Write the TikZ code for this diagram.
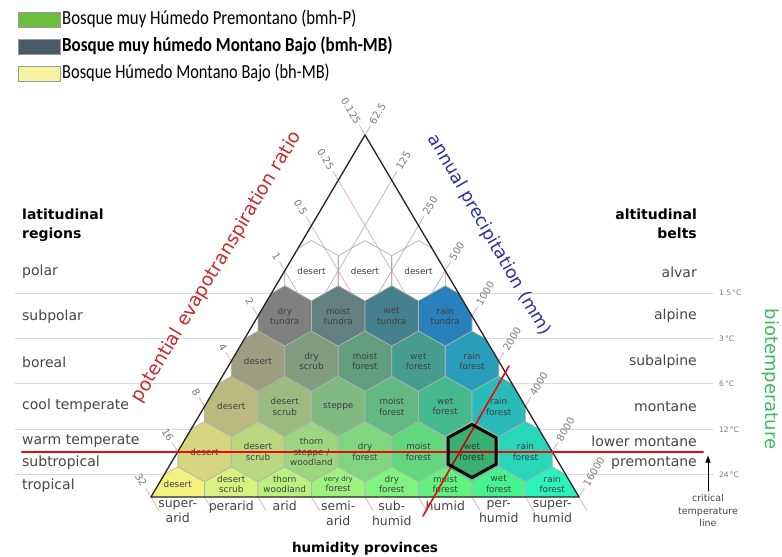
\documentclass[tikz,border=0pt]{standalone}
\usepackage{fontspec}
\setmainfont{DejaVu Sans}
\newfontfamily\legendfont{Carlito}
\usetikzlibrary{arrows.meta}

\definecolor{petline}{RGB}{232,178,185}
\definecolor{precline}{RGB}{182,182,222}
\definecolor{beltline}{RGB}{205,222,222}
\definecolor{petred}{RGB}{205,40,45}
\definecolor{precblue}{RGB}{45,45,160}
\definecolor{biogreen}{RGB}{60,185,100}
\definecolor{critred}{RGB}{235,10,10}
\definecolor{tickgray}{RGB}{125,125,125}
\definecolor{labelgray}{RGB}{70,70,70}

% one hexagon cell around a centre point (half width 26.75, row height 45.25)
\newcommand{\hexcell}[2]{(#1,#2) ++(0,30.17) -- ++(26.75,-15.08) -- ++(0,-30.17)
  -- ++(-26.75,-15.08) -- ++(-26.75,15.08) -- ++(0,30.17) -- cycle}

\tikzset{
  cell/.style = {draw = black!30, line width = 0.6pt},
  celltext/.style = {font = \fontsize{8.8}{10.5}\selectfont, align = center,
    text = black!75, inner sep = 0pt},
  zonetext/.style = {font = \fontsize{14}{16}\selectfont, text = labelgray, inner sep = 0pt},
  headtext/.style = {font = \bfseries\fontsize{14}{19}\selectfont, inner sep = 0pt},
  ticktext/.style = {font = \fontsize{10}{12}\selectfont, text = tickgray, inner sep = 0pt},
  degtext/.style = {font = \fontsize{7.5}{9}\selectfont, text = tickgray, inner sep = 0pt, anchor = west},
  provtext/.style = {font = \fontsize{12.5}{15}\selectfont, text = labelgray,
    align = center, anchor = north, inner sep = 0pt},
  legendtext/.style = {font = \legendfont\fontsize{20}{22}\selectfont, anchor = west, inner sep = 0pt},
}

\begin{document}
\begin{tikzpicture}[x = 1pt, y = 1pt, > = Latex, line cap = round]

    \useasboundingbox[fill = white] (0,0) rectangle (782,-557);

    % corners of the triangle
    \coordinate (A) at (365,-135);
    \coordinate (B) at (151,-497);
    \coordinate (C) at (579,-497);

    % Legend.
    \draw[black!40, fill = {rgb,255:red,108;green,190;blue,62}] (18,-12) rectangle (60,-27);
    \draw[black!40, fill = {rgb,255:red,72;green,92;blue,104}] (18,-39) rectangle (60,-54);
    \draw[black!40, fill = {rgb,255:red,246;green,244;blue,160}] (18,-66) rectangle (60,-81);
    \node[legendtext] (leg1) at (62,-19) {\scalebox{0.84}[1]{Bosque muy Húmedo Premontano (bmh-P)}};
    \node[legendtext, font = \legendfont\bfseries\fontsize{20}{22}\selectfont] (leg2) at (62,-46)
        {\scalebox{0.85}[1]{Bosque muy húmedo Montano Bajo (bmh-MB)}};
    \node[legendtext] (leg3) at (62,-73) {\scalebox{0.82}[1]{Bosque Húmedo Montano Bajo (bh-MB)}};

    % Belt boundaries across the whole width.
    \foreach \r in {3,...,7} {
        \pgfmathsetmacro\by{-135-45.25*(\r+0.5)}
        \draw[beltline, line width = 1pt] (15,\by) -- (713,\by);
    }

    % Guide lines for the PET ratio and the precipitation, with their ticks.
    \foreach \k/\petval/\precval in {0/0.125/62.5, 1/0.25/125, 2/0.5/250, 3/1/500, 4/2/1000,
                               5/4/2000, 6/8/4000, 7/16/8000, 8/32/16000} {
        \pgfmathsetmacro\lx{365-26.75*\k}
        \pgfmathsetmacro\rx{365+26.75*\k}
        \pgfmathsetmacro\sy{-135-45.25*\k}
        \pgfmathsetmacro\petend{\lx+26.75*(8-\k)+0.3*26.75}
        \pgfmathsetmacro\precend{\rx-26.75*(8-\k)}
        \draw[petline, line width = 0.8pt]
            ({\lx-0.2*26.75},{\sy+0.2*45.25}) -- (\petend,{-497-0.3*45.25});
        \draw[precline, line width = 0.8pt]
            ({\rx+0.2*26.75},{\sy+0.2*45.25}) -- (\precend,-497);
        \node[ticktext, anchor = east, rotate = -59.4] (pet\k) at ({\lx-0.25*26.75},{\sy+0.25*45.25}) {\petval};
        \node[ticktext, anchor = west, rotate = 59.4] (prec\k) at ({\rx+0.25*26.75},{\sy+0.25*45.25}) {\precval};
    }

    % Life zone hexagons, cut to the triangle.
    \begin{scope}
        \clip (A) -- (B) -- (C) -- cycle;
        \foreach \i in {0,1,2} {
            \pgfmathsetmacro\cx{365+(2*\i-2)*26.75}
            \draw[cell, draw = black!35] \hexcell{\cx}{-270.75};
            \node[celltext] (polar\i) at (\cx,-270.75) {desert};
        }
        \foreach \r/\i/\zone in {
            4/0/808080, 4/1/608080, 4/2/408090, 4/3/2080C0,
            5/0/A0A080, 5/1/80A080, 5/2/60A080, 5/3/40A090, 5/4/20A0C0,
            6/0/C0C080, 6/1/A0C080, 6/2/80C080, 6/3/60C080, 6/4/40C090, 6/5/20C0C0,
            7/0/E0E080, 7/1/C0E080, 7/2/A0E080, 7/3/80E080, 7/4/60E080, 7/5/40E090, 7/6/20E0C0,
            8/0/FFFF80, 8/1/E0FF80, 8/2/C0FF80, 8/3/A0FF80, 8/4/80FF80, 8/5/60FF80,
            8/6/40FF90, 8/7/20FFC0} {
            \definecolor{zonefill}{HTML}{\zone}
            \pgfmathsetmacro\cx{365+(2*\i-\r+1)*26.75}
            \pgfmathsetmacro\cy{-135-45.25*\r}
            \draw[cell, fill = zonefill!90!gray] \hexcell{\cx}{\cy};
        }
    \end{scope}

    % Zone names (bottom row sits on the base, so its names move up).
    \foreach \r/\i/\name in {
            4/0/{dry\\tundra}, 4/1/{moist\\tundra}, 4/2/{wet\\tundra}, 4/3/{rain\\tundra},
            5/0/desert, 5/1/{dry\\scrub}, 5/2/{moist\\forest}, 5/3/{wet\\forest}, 5/4/{rain\\forest},
            6/0/desert, 6/1/{desert\\scrub}, 6/2/steppe, 6/3/{moist\\forest}, 6/4/{wet\\forest},
            6/5/{rain\\forest},
            7/0/desert, 7/1/{desert\\scrub}, 7/2/{thorn\\steppe /\\woodland}, 7/3/{dry\\forest},
            7/4/{moist\\forest}, 7/5/{wet\\forest}, 7/6/{rain\\forest}} {
        \pgfmathsetmacro\cx{365+(2*\i-\r+1)*26.75}
        \pgfmathsetmacro\cy{-135-45.25*\r}
        \node[celltext] (z\r\i) at (\cx,\cy) {\name};
    }
    \foreach \i/\name in {0/desert, 1/{desert\\scrub}, 2/{thorn\\woodland},
            3/{\fontsize{7}{10.5}\selectfont very dry\\forest}, 4/{dry\\forest}, 5/{moist\\forest},
            6/{wet\\forest}, 7/{rain\\forest}} {
        \pgfmathsetmacro\cx{365+(2*\i-7)*26.75}
        \node[celltext] (z8\i) at (\cx,-484) {\name};
    }

    % Triangle outline.
    \draw[black!85, line width = 1.3pt, line join = round] (A) -- (B) -- (C) -- cycle;

    % Axis titles.
    \node[font = \fontsize{18.5}{20}\selectfont, text = petred, rotate = 59] (pettitle)
        at (217,-267) {potential evapotranspiration ratio};
    \node[font = \fontsize{17.5}{20}\selectfont, text = precblue, rotate = -60] (prectitle)
        at (489,-235) {annual precipitation (mm)};
    \node[font = \fontsize{18}{20}\selectfont, text = biogreen, rotate = -90] (biotitle)
        at (770,-379) {biotemperature};

    % Latitudinal regions.
    \node[headtext, anchor = north west, align = left] (lathead) at (22,-209) {latitudinal\\regions};
    \foreach \y/\name in {272/polar, 317/subpolar, 362/boreal, 406/cool temperate,
                          441/warm temperate, 463/subtropical, 486/tropical} {
        \node[zonetext, anchor = west] (lat\y) at (22,-\y) {\name};
    }

    % Altitudinal belts.
    \node[headtext, anchor = north east, align = right] (althead) at (697,-209) {altitudinal\\belts};
    \foreach \y/\name in {272/alvar, 316/alpine, 362/subalpine, 407/montane,
                          441/lower montane, 463/premontane} {
        \node[zonetext, anchor = east] (alt\y) at (697,-\y) {\name};
    }
    \foreach \y/\deg in {293/1.5, 339/3, 384/6, 430/12, 475/24} {
        \node[degtext] (deg\y) at (719,-\y) {\deg\,°C};
    }

    % Humidity provinces.
    \foreach \j/\name in {0/{super-\\arid}, 1/perarid, 2/arid, 3/{semi-\\arid},
                          4/{sub-\\humid}, 5/humid, 6/{per-\\humid}, 7/{super-\\humid}} {
        \node[provtext] (prov\j) at (151+53.5*\j+26.75,-500.5) {\name};
    }
    \node[font = \bfseries\fontsize{13.5}{16}\selectfont] (provhead) at (365,-549) {humidity provinces};

    % Critical temperature line and the marked zone.
    \draw[critred, line width = 2.2pt] (22,-452) -- (703,-452);
    \draw[critred, line width = 1.6pt] (423,-516) -- (509,-366);
    \draw[line width = 3pt, fill = black, fill opacity = 0.18, line join = miter]
        (472,-424.5) -- ++(24,-13.25) -- ++(0,-26.5) -- ++(-24,-13.25)
        -- ++(-24,13.25) -- ++(0,26.5) -- cycle;

    \node[font = \fontsize{9.5}{12.5}\selectfont, text = labelgray, align = center, anchor = north]
        (crit) at (708,-491) {critical\\temperature\\line};
    \coordinate (critend) at (708,-455);
    \draw[->, line width = 1pt] (crit.north) -- (critend);

\end{tikzpicture}
\end{document}
